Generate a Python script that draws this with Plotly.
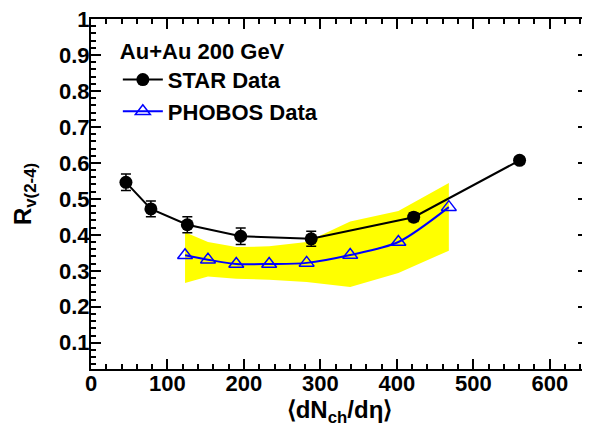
import plotly.graph_objects as go

# STAR data
star_x = [45.7, 78.3, 126, 195.8, 288, 422, 560.5]
star_y = [0.546, 0.472, 0.428, 0.396, 0.389, 0.449, 0.607]
star_err = [0.023, 0.022, 0.022, 0.023, 0.021, 0.012, 0.010]

# PHOBOS data with systematic band
phobos_x = [123, 153, 190, 233, 282, 339, 402, 468]
phobos_y = [0.343, 0.331, 0.319, 0.319, 0.322, 0.344, 0.380, 0.477]
band_hi = [0.407, 0.380, 0.366, 0.368, 0.380, 0.437, 0.466, 0.544]
band_lo = [0.266, 0.284, 0.278, 0.275, 0.269, 0.255, 0.294, 0.356]

x_ticks = [0, 100, 200, 300, 400, 500, 600]

FONT = "Liberation Sans, Arial, Helvetica, sans-serif"

fig = go.Figure()

fig.add_trace(go.Scatter(
    x=phobos_x + phobos_x[::-1],
    y=band_hi + band_lo[::-1],
    fill="toself", fillcolor="#ffff00", mode="lines",
    line=dict(width=0, color="#ffff00"), showlegend=False, hoverinfo="skip"))

fig.add_trace(go.Scatter(
    x=star_x, y=star_y, mode="lines+markers", name="STAR Data",
    line=dict(color="black", width=2),
    marker=dict(symbol="circle", size=13, color="black"),
    error_y=dict(type="data", array=star_err, color="black", thickness=1.5, width=5)))

fig.add_trace(go.Scatter(
    x=phobos_x, y=phobos_y, mode="lines+markers", name="PHOBOS Data",
    line=dict(color="#0000ff", width=2, shape="spline", smoothing=0.8),
    marker=dict(symbol="triangle-up-open", size=13, color="#0000ff", line=dict(width=1.5, color="#0000ff"))))

axis_common = dict(
    showgrid=False, zeroline=False, showline=True, linecolor="black", linewidth=2,
    mirror="allticks", ticks="inside", ticklen=10, tickwidth=1.5, tickcolor="black",
    tickfont=dict(family=FONT, size=22, color="black", weight="bold"),
    ticklabeloverflow="allow",
    automargin=False,
)

fig.update_xaxes(
    range=[0, 650], tickvals=x_ticks, ticktext=[str(v) for v in x_ticks],
    minor=dict(dtick=20, tick0=0, ticklen=5, ticks="inside", tickcolor="black", tickwidth=1.5),
    ticklabelstandoff=-6,
    title=dict(text="⟨dN<sub>ch</sub>/dη⟩", font=dict(family=FONT, size=24, color="black", weight="bold"), standoff=0),
    **axis_common)

fig.update_yaxes(
    range=[0.027, 1], dtick=0.1, tick0=0,
    minor=dict(dtick=0.02, tick0=0, ticklen=5, ticks="inside", tickcolor="black", tickwidth=1.5),
    ticklabelstandoff=-5,
    title=dict(text="R<sub>v(2-4)</sub>", font=dict(family=FONT, size=24, color="black", weight="bold"), standoff=21),
    **axis_common)

# page body adds an 8px offset, so the figure is drawn 8px smaller
fig.update_layout(
    width=582, height=420,
    margin=dict(l=83, r=2, t=11, b=59),
    paper_bgcolor="white", plot_bgcolor="white",
    legend=dict(
        x=0.054, y=0.968, xanchor="left", yanchor="top",
        bgcolor="rgba(0,0,0,0)", borderwidth=0,
        font=dict(family=FONT, size=22, color="black", weight="bold"),
        title=dict(text="Au+Au 200 GeV", font=dict(family=FONT, size=22, color="black", weight="bold")),
        tracegroupgap=0, itemwidth=40,
    ),
    showlegend=True,
)

fig.write_html("out.html")
